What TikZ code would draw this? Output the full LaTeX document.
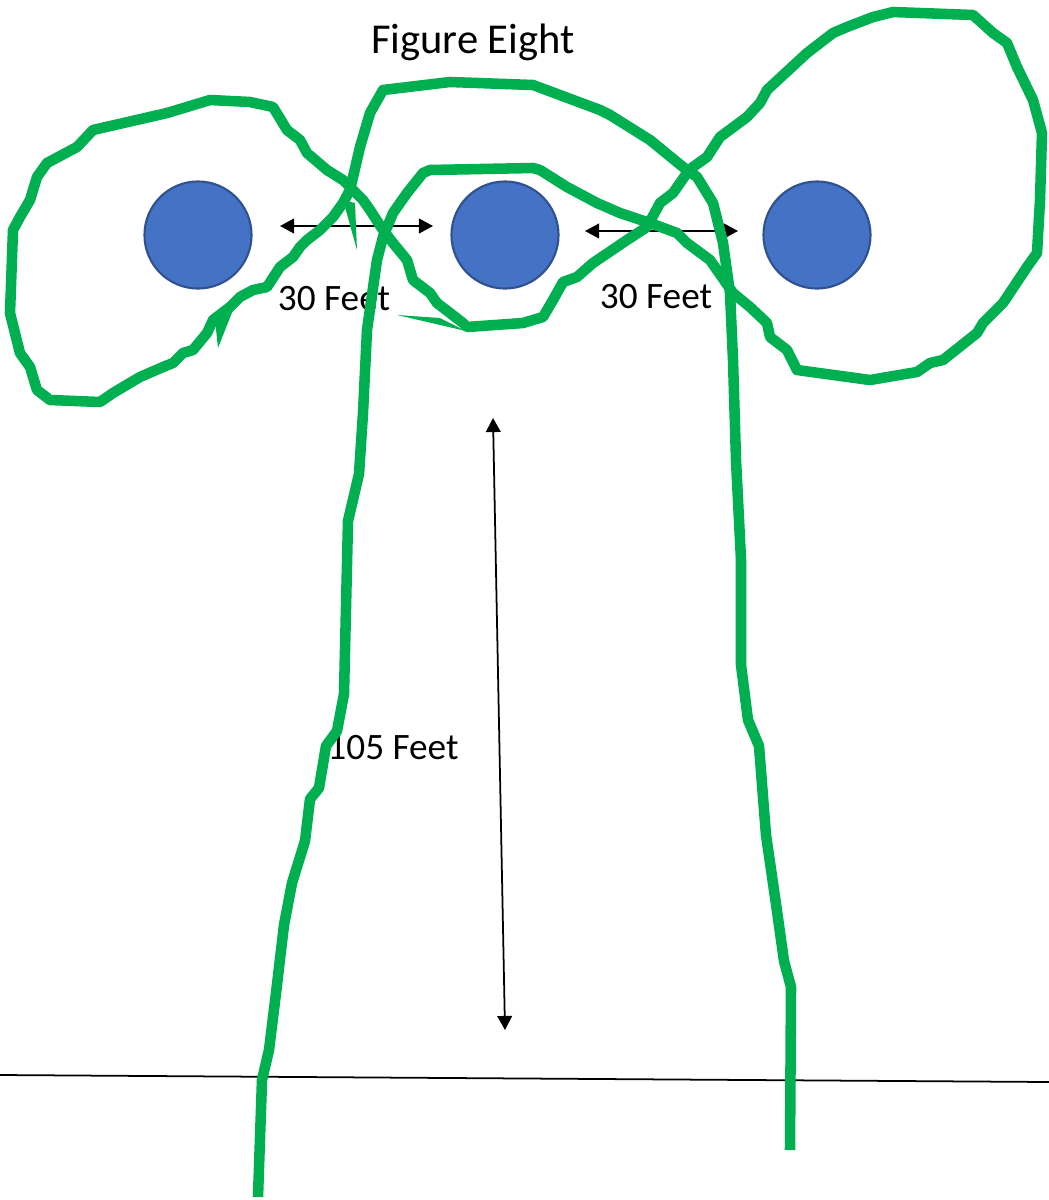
\documentclass[tikz,border=0pt]{standalone}
\usepackage{fontspec}
\setmainfont{Carlito}
\usepackage{tikz}
\usetikzlibrary{arrows.meta,positioning}

\definecolor{trackgreen}{HTML}{00B050}
\definecolor{pylonblue}{HTML}{4472C4}
\definecolor{pylonedge}{HTML}{2F528F}

\tikzset{
  pylon/.style={circle, fill=pylonblue, draw=pylonedge, line width=0.6pt, minimum size=1.07cm, inner sep=0pt},
  dim/.style={line width=0.5pt, {Triangle[length=4pt,width=4.2pt]}-{Triangle[length=4pt,width=4.2pt]}},
  track/.style={trackgreen, line width=3pt, line join=round, line cap=butt},
  label/.style={font=\fontsize{10.6}{12}\selectfont, inner sep=0pt}
}

\begin{document}
\begin{tikzpicture}[x=0.01cm,y=-0.01cm]
\useasboundingbox (0,0) rectangle (1049,1200);

% Title
\node[label, font=\fontsize{12.1}{14}\selectfont] (title) at (473,42) {Figure Eight};

% Pylons
\foreach \x/\name in {198/left, 505/mid, 817/right} {
    \node[pylon] (\name) at (\x,235) {};
}

% Distances
\coordinate (la) at (280,226);
\coordinate (lb) at (433,226);
\coordinate (ra) at (585,231);
\coordinate (rb) at (738,231);
\coordinate (va) at (493,418);
\coordinate (vb) at (505,1030);
\draw[dim] (la) -- (lb);
\draw[dim] (ra) -- (rb);
\draw[dim] (va) -- (vb);
\node[label] (dl) at (334,299) {30 Feet};
\node[label] (dr) at (656,297) {30 Feet};
\node[label] (dv) at (393,748) {105 Feet};

% Start line
\coordinate (g1) at (0,1075);
\coordinate (g2) at (1049,1082);
\draw[line width=0.5pt] (g1) -- (g2);

% Flight path
\draw[track] (258,1197) -- (262,1080) -- (269,1050) -- (276,993) -- (284,925)
  -- (292,883) -- (305,841) -- (310,799) -- (319,788) -- (326,746) -- (337,731)
  -- (344,694) -- (348,521) -- (359,474) -- (363,413) -- (367,330) -- (377,260)
  -- (383,237) -- (393,213) -- (407,193) -- (423,173) -- (430,170) -- (533,168)
  -- (540,170) -- (567,187) -- (597,203) -- (620,213) -- (650,223) -- (677,233)
  -- (687,243) -- (710,260) -- (733,293) -- (750,307) -- (767,323) -- (770,337)
  -- (787,350) -- (797,370) -- (870,380) -- (917,372) -- (930,363) -- (943,360)
  -- (977,333) -- (983,323) -- (1003,303) -- (1027,267) -- (1037,253) -- (1040,200)
  -- (1042,133) -- (1033,100) -- (1017,67) -- (1007,43) -- (993,33) -- (973,15)
  -- (893,12) -- (873,17) -- (847,27) -- (833,33) -- (807,53) -- (767,90)
  -- (760,103) -- (747,117) -- (720,137) -- (707,157) -- (693,167) -- (687,173)
  -- (673,193) -- (660,203) -- (647,227) -- (627,240) -- (593,263) -- (577,277)
  -- (563,282) -- (553,300) -- (543,317) -- (523,323) -- (467,327) -- (463,323)
  -- (450,313) -- (437,303) -- (430,293) -- (413,280) -- (407,260) -- (393,243)
  -- (383,230) -- (370,210) -- (363,200) -- (353,190) -- (343,180) -- (327,170)
  -- (307,153) -- (300,140) -- (287,130) -- (273,107) -- (250,102) -- (210,100)
  -- (167,113) -- (93,130) -- (77,147) -- (47,163) -- (37,177) -- (30,200)
  -- (20,217) -- (13,230) -- (10,313) -- (20,353) -- (30,367) -- (37,390)
  -- (50,400) -- (100,402) -- (113,393) -- (140,377) -- (163,367) -- (173,363)
  -- (183,353) -- (193,350) -- (207,333) -- (213,320) -- (230,307) -- (240,297)
  -- (253,290) -- (267,287) -- (280,267) -- (293,257) -- (300,247) -- (307,240)
  -- (320,230) -- (333,217) -- (343,203) -- (350,190) -- (360,147) -- (370,113)
  -- (383,90) -- (450,82) -- (533,85) -- (600,110) -- (610,115) -- (650,140)
  -- (683,167) -- (697,177) -- (713,203) -- (723,243) -- (730,293) -- (733,360)
  -- (736,460) -- (741,560) -- (741,665) -- (748,720) -- (759,746) -- (766,835)
  -- (776,904) -- (784,961) -- (791,987) -- (790,1150);

% pen slips
\fill[trackgreen] (343,200) -- (357,250) -- (355,203) -- cycle;
\fill[trackgreen] (215,320) -- (233,310) -- (218,348) -- cycle;
\fill[trackgreen] (397,315) -- (440,318) -- (466,331) -- cycle;
\end{tikzpicture}
\end{document}
